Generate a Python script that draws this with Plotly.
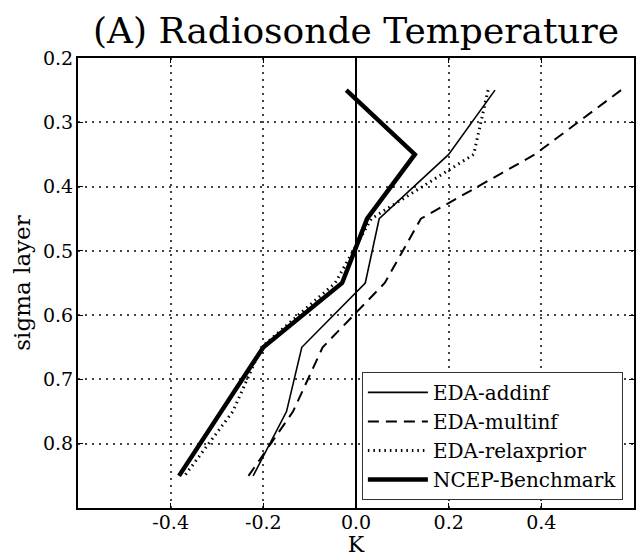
import plotly.graph_objects as go

sigma = [0.25, 0.35, 0.45, 0.55, 0.65, 0.75, 0.85]
eda_addinf = [0.30, 0.20, 0.05, 0.02, -0.117, -0.15, -0.222]
eda_multinf = [0.572, 0.386, 0.14, 0.062, -0.072, -0.136, -0.232]
eda_relaxprior = [0.285, 0.254, 0.033, -0.045, -0.204, -0.266, -0.37]
ncep_benchmark = [-0.021, 0.127, 0.024, -0.03, -0.2, -0.291, -0.382]

series_names = ["EDA-addinf", "EDA-multinf", "EDA-relaxprior", "NCEP-Benchmark"]
x_tickvals = [-0.4, -0.2, 0.0, 0.2, 0.4]
x_ticktext = ["-0.4", "-0.2", "0.0", "0.2", "0.4"]
y_tickvals = [0.2, 0.3, 0.4, 0.5, 0.6, 0.7, 0.8]
y_ticktext = ["0.2", "0.3", "0.4", "0.5", "0.6", "0.7", "0.8"]

FONT = "DejaVu Serif"

styles = [
    dict(width=1.6, dash="solid"),
    dict(width=2, dash="11px,7px"),
    dict(width=3, dash="1.5px,4px"),
    dict(width=4.5, dash="solid"),
]
data = [eda_addinf, eda_multinf, eda_relaxprior, ncep_benchmark]

fig = go.Figure()
for name, xs, st in zip(series_names, data, styles):
    fig.add_trace(go.Scatter(
        x=xs, y=sigma, mode="lines", name=name,
        line=dict(color="black", width=st["width"], dash=st["dash"]),
    ))

axis_common = dict(
    showline=True, linecolor="black", linewidth=2, mirror="allticks",
    ticks="inside", ticklen=5, tickcolor="black", tickwidth=1,
    showgrid=True, gridcolor="#444444", griddash="1.5px,5.5px", gridwidth=1.5,
    tickfont=dict(family=FONT, size=19, color="black"),
)

fig.update_layout(
    width=637, height=557,
    margin=dict(l=78, r=1, t=58, b=49),
    paper_bgcolor="white", plot_bgcolor="white",
    font=dict(family=FONT, color="black"),
    title=dict(text="(A) Radiosonde Temperature", x=0.5, xref="paper",
               y=1 - 30 / 557, yanchor="middle",
               font=dict(family=FONT, size=36, color="black")),
    xaxis=dict(range=[-0.6, 0.6], tickvals=x_tickvals, ticktext=x_ticktext,
               zeroline=True, zerolinecolor="black", zerolinewidth=1.6,
               ticklabelstandoff=-4,
               title=dict(text="K", font=dict(family=FONT, size=22), standoff=0),
               **axis_common),
    yaxis=dict(range=[0.9, 0.2], tickvals=y_tickvals, ticktext=y_ticktext,
               zeroline=False, ticklabelstandoff=-1,
               title=dict(text="sigma layer", font=dict(family=FONT, size=23), standoff=6),
               **axis_common),
    legend=dict(x=0.98, y=0.018, xanchor="right", yanchor="bottom",
                bgcolor="white", bordercolor="#333333", borderwidth=1,
                font=dict(family=FONT, size=20, color="black"),
                itemwidth=60, tracegroupgap=0),
    showlegend=True,
)

fig.write_html("out.html")
